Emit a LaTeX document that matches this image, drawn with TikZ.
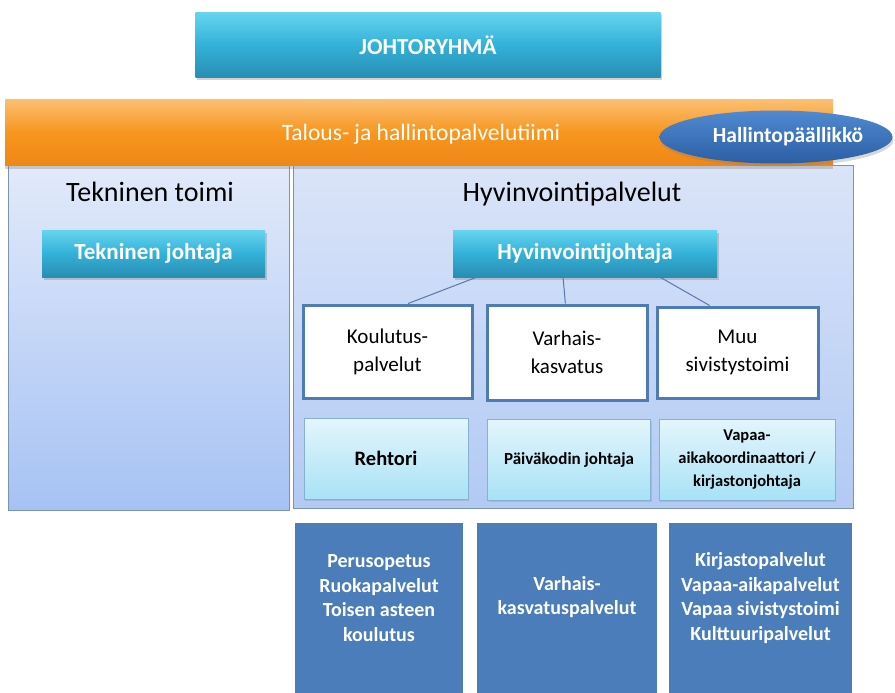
\documentclass[tikz,border=0pt]{standalone}
\usepackage{fontspec}
\setmainfont{Carlito}
\usetikzlibrary{shadows,calc,shapes.geometric}
\definecolor{tealtop}{HTML}{66D4F0}
\definecolor{tealmid}{HTML}{33B1D8}
\definecolor{tealbot}{HTML}{2A8DB2}
\definecolor{orgtop}{HTML}{FBBE70}
\definecolor{orgmid}{HTML}{F7961F}
\definecolor{orgbot}{HTML}{EF8716}
\definecolor{elltop}{HTML}{4F8AD2}
\definecolor{ellbot}{HTML}{2C5EA3}
\definecolor{panLtop}{HTML}{E2EAFA}
\definecolor{panLbot}{HTML}{A6C2F4}
\definecolor{panRtop}{HTML}{DAE4F8}
\definecolor{panRbot}{HTML}{B2CAF4}
\definecolor{panline}{HTML}{7D93B6}
\definecolor{cyantop}{HTML}{E4F5FC}
\definecolor{cyanbot}{HTML}{A8E2F6}
\definecolor{cyanline}{HTML}{86B2CF}
\definecolor{boxline}{HTML}{4F7BB4}
\definecolor{botblue}{HTML}{4A7DBA}
\definecolor{connline}{HTML}{5679AD}
\tikzset{
  tealbox/.style={draw=none, top color=tealtop, bottom color=tealbot, middle color=tealmid,
    text=white, font=\bfseries\fontsize{23}{27}\selectfont, inner sep=0pt,
    drop shadow={shadow xshift=1.5pt, shadow yshift=-3pt, opacity=0.35}},
  panelL/.style={draw=panline, line width=1pt, top color=panLtop, bottom color=panLbot, inner sep=0pt},
  panelR/.style={draw=panline, line width=1pt, top color=panRtop, bottom color=panRbot, inner sep=0pt},
  ptitle/.style={anchor=base, text=black, font=\fontsize{28}{32}\selectfont, inner sep=0pt},
  unitbox/.style={draw=boxline, line width=3pt, fill=white, align=center, inner sep=0pt,
    font=\fontsize{21}{28}\selectfont,
    drop shadow={shadow xshift=1pt, shadow yshift=-2pt, opacity=0.25}},
  headbox/.style={draw=cyanline, line width=0.8pt, top color=cyantop, bottom color=cyanbot,
    align=center, inner sep=0pt, font=\bfseries\fontsize{16.5}{23}\selectfont,
    drop shadow={shadow xshift=1pt, shadow yshift=-2pt, opacity=0.25}},
  servbox/.style={draw=white, line width=2.5pt, fill=botblue, inner sep=0pt,
    drop shadow={shadow xshift=0.5pt, shadow yshift=-0.5pt, opacity=0.3}},
  servtext/.style={text=white, align=center, inner sep=0pt, font=\bfseries\fontsize{20}{24.5}\selectfont},
  conn/.style={draw=connline, line width=1pt}
}
\begin{document}
\begin{tikzpicture}[x=1pt,y=-1pt]
\useasboundingbox (0,0) rectangle (895,693);
\fill[white] (0,0) rectangle (895,693);

% panels
\node[panelL, minimum width=281pt, minimum height=345pt] (tt) at (148.5,337.5) {};
\node[panelR, minimum width=560pt, minimum height=343pt] (hv) at (573,336.5) {};
\node[ptitle] (ttT) at (150,201) {Tekninen toimi};
\node[ptitle] (hvT) at (572,201) {Hyvinvointipalvelut};

% top
\node[tealbox, minimum width=465pt, minimum height=65pt] (jr) at (428,45) {JOHTORYHMÄ};
\node[draw=none, top color=orgtop, bottom color=orgbot, middle color=orgmid, inner sep=0pt,
  minimum width=828pt, minimum height=65pt, text=white, font=\fontsize{23.5}{27}\selectfont,
  drop shadow={shadow xshift=0pt, shadow yshift=-4pt, opacity=0.35}] (th) at (419,132.5) {};
\node[text=white, font=\fontsize{23.5}{27}\selectfont, inner sep=0pt] (thT) at (421,134) {Talous- ja hallintopalvelutiimi};
\node[ellipse, draw=none, top color=elltop, bottom color=ellbot, inner sep=0pt,
  minimum width=233pt, minimum height=53pt,
  drop shadow={shadow xshift=1pt, shadow yshift=-3pt, opacity=0.3}] (hp) at (776,137) {};
\node[text=white, font=\bfseries\fontsize{21.5}{25}\selectfont, inner sep=0pt] (hpT) at (788,137) {Hallintopäällikkö};

% leaders
\node[tealbox, minimum width=223pt, minimum height=47pt] (tj) at (153.5,253.5) {Tekninen johtaja};
\node[tealbox, minimum width=264pt, minimum height=47pt] (hj) at (585,253.5) {Hyvinvointijohtaja};

% units
\node[unitbox, minimum width=169pt, minimum height=93pt] (kp) at (387.5,351.5) {Koulutus-\\palvelut};
\node[unitbox, minimum width=160pt, minimum height=95pt] (vk) at (567,352.5) {Varhais-\\kasvatus};
\node[unitbox, minimum width=161pt, minimum height=91pt] (ms) at (737.5,352.5) {Muu\\sivistystoimi};

% connectors
\coordinate (hjA) at ($(hj.south west)!0.09!(hj.south east)$);
\coordinate (hjB) at ($(hj.south west)!0.417!(hj.south east)$);
\coordinate (hjC) at ($(hj.south west)!0.784!(hj.south east)$);
\coordinate (kpT) at ($(kp.north west)!0.62!(kp.north east)$);
\coordinate (vkT) at ($(vk.north west)!0.49!(vk.north east)$);
\coordinate (msT) at ($(ms.north west)!0.33!(ms.north east)$);
\draw[conn] (hjA) -- (kpT);
\draw[conn] (hjB) -- (vkT);
\draw[conn] (hjC) -- (msT);

% heads
\node[headbox, minimum width=164pt, minimum height=81pt, font=\bfseries\fontsize{20.5}{23}\selectfont] (re) at (386,458.5) {Rehtori};
\node[headbox, minimum width=163pt, minimum height=81pt, font=\bfseries\fontsize{17}{23}\selectfont] (pj) at (569,459.5) {Päiväkodin johtaja};
\node[headbox, minimum width=176pt, minimum height=81pt] (va) at (747,459.5) {Vapaa-\\aikakoordinaattori /\\kirjastonjohtaja};

% services
\node[servbox, minimum width=170pt, minimum height=180pt] (b1) at (379,612) {};
\node[servbox, minimum width=182pt, minimum height=180pt] (b2) at (567,612) {};
\node[servbox, minimum width=185pt, minimum height=180pt] (b3) at (760.5,612) {};
\node[servtext] (b1t) at (379,598) {Perusopetus\\Ruokapalvelut\\Toisen asteen\\koulutus};
\node[servtext] (b2t) at (567,597) {Varhais-\\kasvatuspalvelut};
\node[servtext] (b3t) at (760.5,598) {Kirjastopalvelut\\Vapaa-aikapalvelut\\Vapaa sivistystoimi\\Kulttuuripalvelut};
\end{tikzpicture}
\end{document}
